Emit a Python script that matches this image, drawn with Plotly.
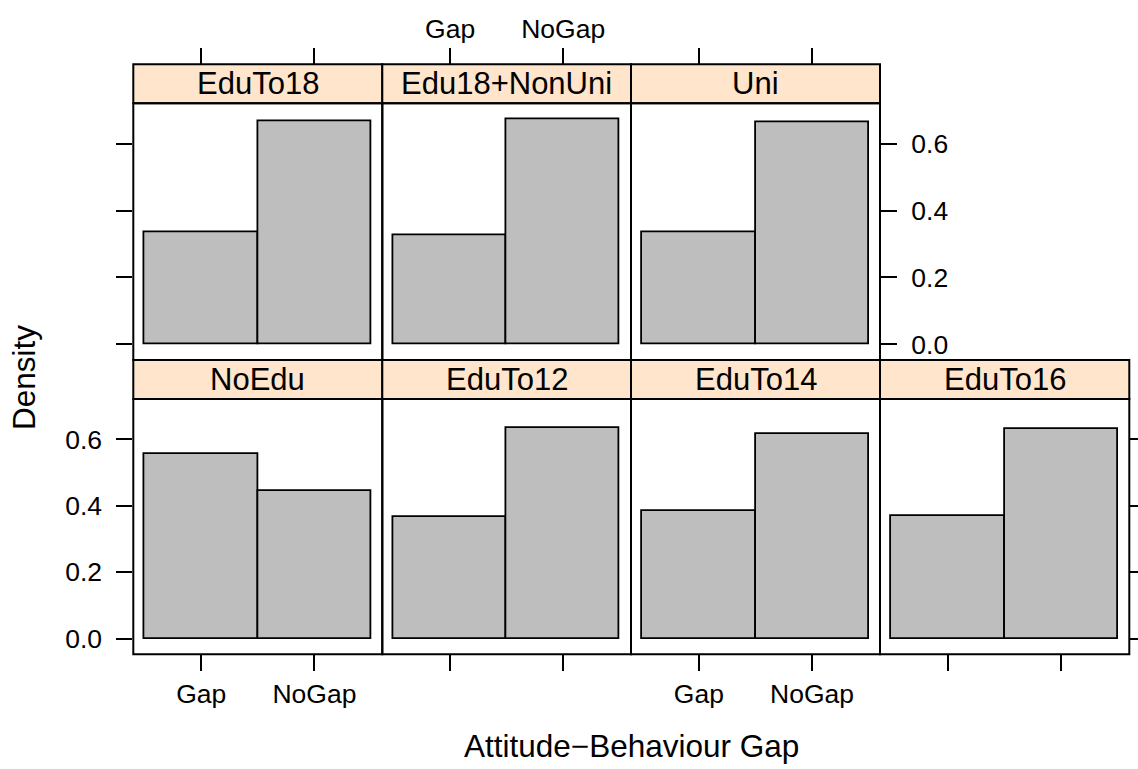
import plotly.graph_objects as go

# ---- data ----
panels = ["NoEdu", "EduTo12", "EduTo14", "EduTo16", "EduTo18", "Edu18+NonUni", "Uni"]
categories = ["Gap", "NoGap"]
gap_density = [0.556, 0.366, 0.385, 0.370, 0.334, 0.326, 0.335]
nogap_density = [0.444, 0.634, 0.615, 0.630, 0.666, 0.674, 0.665]
y_ticks = [0.0, 0.2, 0.4, 0.6]
y_tick_labels = ["0.0", "0.2", "0.4", "0.6"]
x_title = "Attitude\u2212Behaviour Gap"
y_title = "Density"

# ---- layout geometry (pixels) ----
W, H = 1138, 769
def X(px): return px / W
def Y(py): return 1 - py / H

col_edges = [133.3, 382.3, 631.0, 880.0, 1129.3]
rows = {
    "bottom": dict(strip=(360.0, 399.0), panel=(399.0, 654.3)),
    "top": dict(strip=(64.3, 103.3), panel=(103.3, 360.0)),
}
placement = [("bottom", 0), ("bottom", 1), ("bottom", 2), ("bottom", 3),
             ("top", 0), ("top", 1), ("top", 2)]

FONT = "Liberation Sans, Arial, sans-serif"
TICK_FONT = dict(family=FONT, size=26.5, color="black")
x_range = [0.4, 2.6]
y_range = [-0.047, 0.721]
LW = 2

fig = go.Figure()
shapes = []
annotations = []

for i, name in enumerate(panels):
    k = i + 1
    row, col = placement[i]
    x0, x1 = col_edges[col], col_edges[col + 1]
    s0, s1 = rows[row]["strip"]
    p0, p1 = rows[row]["panel"]
    xa = "x" if k == 1 else f"x{k}"
    ya = "y" if k == 1 else f"y{k}"

    fig.add_trace(go.Bar(
        x=[1, 2], y=[gap_density[i], nogap_density[i]], width=1,
        marker=dict(color="#BEBEBE", line=dict(color="black", width=1.8)),
        xaxis=xa, yaxis=ya, showlegend=False, hoverinfo="skip",
    ))

    xaxis = dict(
        domain=[X(x0), X(x1)], range=x_range, showgrid=False, zeroline=False,
        showline=False, tickvals=[1, 2], ticktext=categories,
        ticks="outside", ticklen=16, tickwidth=1.8, tickcolor="black",
        tickfont=TICK_FONT, fixedrange=True,
    )
    if row == "bottom":
        xaxis.update(anchor=ya, side="bottom", showticklabels=col in (0, 2))
    else:
        xaxis.update(anchor="free", position=Y(s0), side="top",
                     showticklabels=(col == 1))

    yaxis = dict(
        domain=[Y(p1), Y(p0)], range=y_range, anchor=xa, showgrid=False,
        zeroline=False, showline=False, tickvals=y_ticks, ticktext=y_tick_labels,
        ticklen=16, tickwidth=1.8, tickcolor="black", tickfont=TICK_FONT,
        fixedrange=True, ticklabelstandoff=9,
    )
    if row == "bottom" and col == 0:
        yaxis.update(side="left", ticks="outside", showticklabels=True)
    elif row == "top" and col == 0:
        yaxis.update(side="left", ticks="outside", showticklabels=False)
    elif row == "top" and col == 2:
        yaxis.update(side="right", ticks="outside", showticklabels=True)
    elif row == "bottom" and col == 3:
        # ticks run off the right edge of the page in the original
        yaxis.update(side="right", ticks="outside", showticklabels=False, ticklen=8)
    else:
        yaxis.update(ticks="", showticklabels=False)

    fig.layout["xaxis" if k == 1 else f"xaxis{k}"] = xaxis
    fig.layout["yaxis" if k == 1 else f"yaxis{k}"] = yaxis

    shapes.append(dict(type="rect", xref="paper", yref="paper",
                       x0=X(x0), x1=X(x1), y0=Y(s1), y1=Y(s0),
                       fillcolor="#FFE5CC", line=dict(color="black", width=LW),
                       layer="above"))
    shapes.append(dict(type="rect", xref="paper", yref="paper",
                       x0=X(x0), x1=X(x1), y0=Y(p1), y1=Y(p0),
                       fillcolor="rgba(0,0,0,0)", line=dict(color="black", width=LW),
                       layer="above"))
    annotations.append(dict(text=name, xref="paper", yref="paper",
                            x=X((x0 + x1) / 2), y=Y((s0 + s1) / 2),
                            xanchor="center", yanchor="middle", showarrow=False,
                            font=dict(family=FONT, size=31, color="black")))

annotations.append(dict(text=x_title, xref="paper", yref="paper",
                        x=X(631.3), y=Y(746), xanchor="center", yanchor="middle",
                        showarrow=False, font=dict(family=FONT, size=31.5, color="black")))
annotations.append(dict(text=y_title, xref="paper", yref="paper",
                        x=X(24), y=Y(378), xanchor="center", yanchor="middle",
                        textangle=-90, showarrow=False,
                        font=dict(family=FONT, size=31.5, color="black")))

fig.update_layout(
    width=W, height=H, margin=dict(l=0, r=0, t=0, b=0),
    paper_bgcolor="white", plot_bgcolor="white",
    bargap=0, shapes=shapes, annotations=annotations,
    font=dict(family=FONT, color="black"),
)

fig.write_html("out.html")
